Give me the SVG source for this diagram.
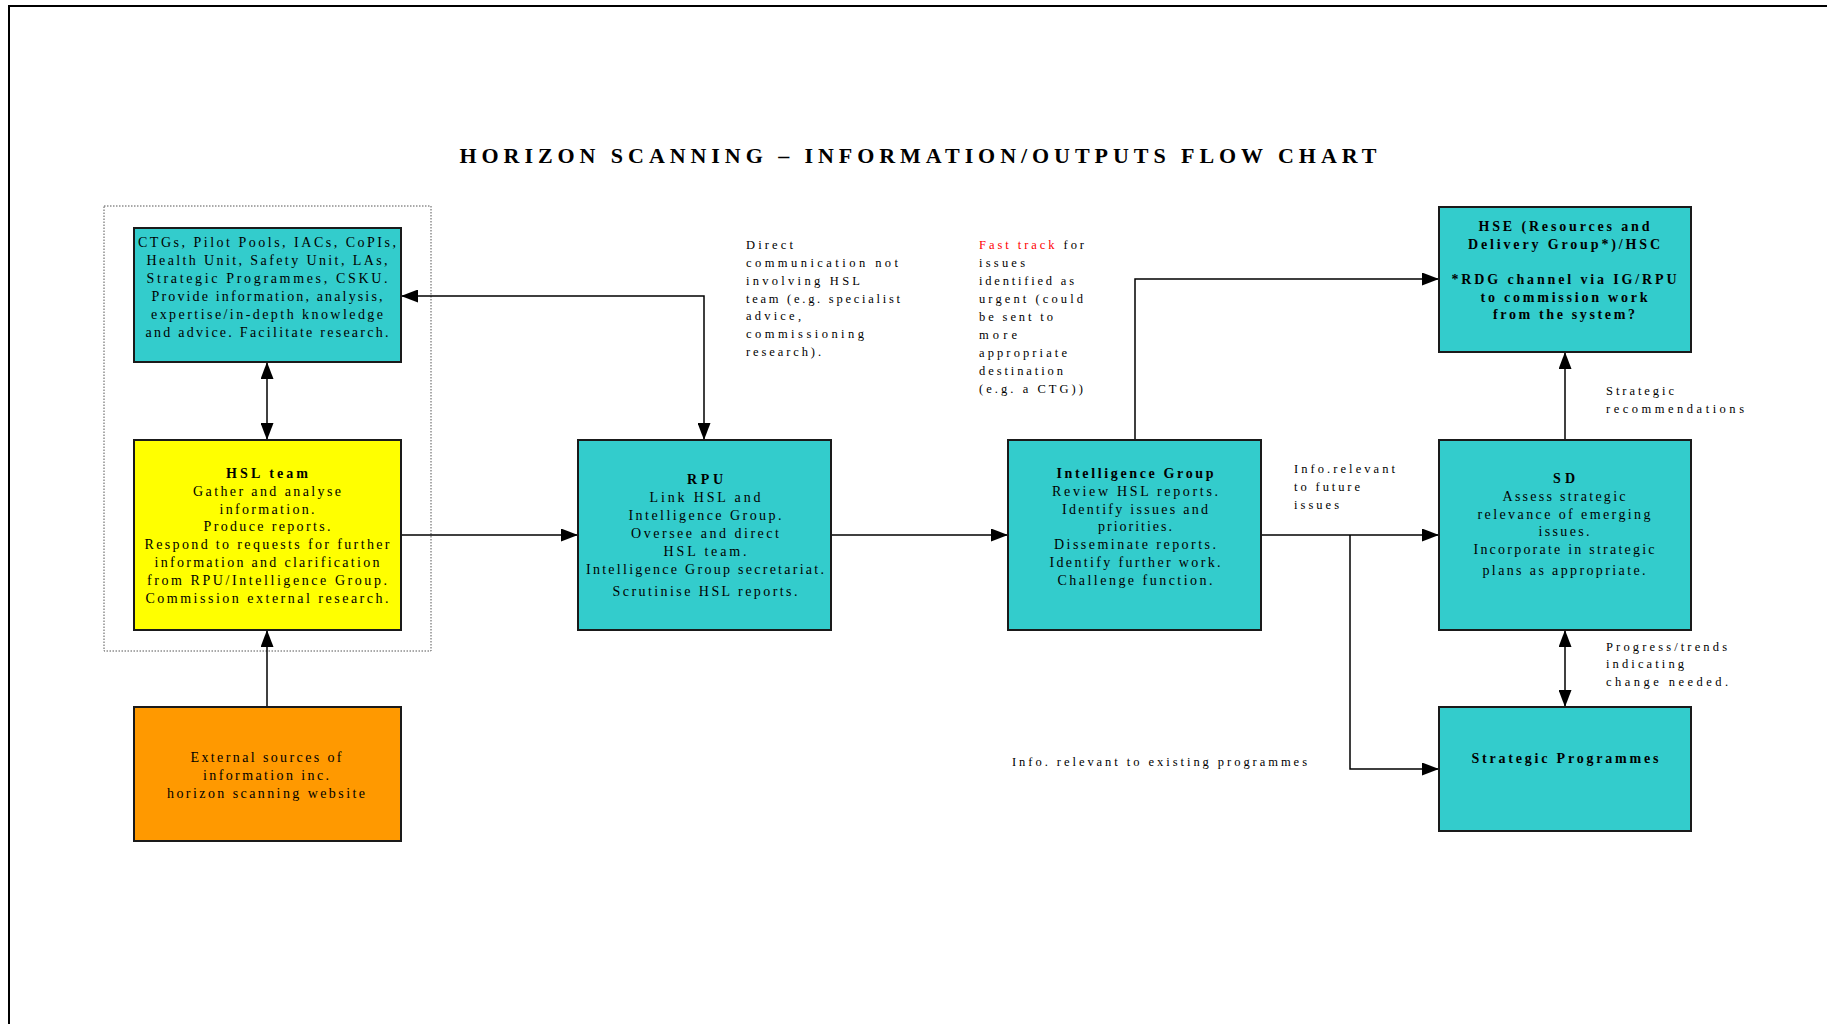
<svg xmlns="http://www.w3.org/2000/svg" width="1827" height="1024" viewBox="0 0 1827 1024">
<style>
.bg{fill:#fff}
.frame{fill:none;stroke:#000;stroke-width:2}
.box{stroke:#1a1a1a;stroke-width:2}
.cyan{fill:#33CCCC}
.yellow{fill:#FFFF00}
.orange{fill:#FF9900}
.group{fill:none;stroke:#555;stroke-width:1;stroke-dasharray:1.5,1.5}
.t{font-family:"Liberation Serif","Times New Roman",serif;font-size:14px;fill:#000}
.lbl{font-size:12.5px}
.b{font-weight:bold}
.m{text-anchor:middle}
.red{fill:#FF0000}
.title{font-family:"Liberation Serif","Times New Roman",serif;font-size:22px;font-weight:bold;fill:#000;text-anchor:middle}
.c{fill:none;stroke:#000;stroke-width:1.5}
</style>
<defs>
<marker id="ah" viewBox="0 0 17 13" refX="17" refY="6.5" markerWidth="17" markerHeight="13" markerUnits="userSpaceOnUse" orient="auto-start-reverse">
<path d="M0,0 L17,6.5 L0,13 z" fill="#000"/>
</marker>
</defs>
<rect class="bg" x="0" y="0" width="1827" height="1024"/>
<path class="frame" d="M9,1024 V6 H1827"/>
<text class="title" x="918" y="163" textLength="917" lengthAdjust="spacing">HORIZON SCANNING – INFORMATION/OUTPUTS FLOW CHART</text>

<rect id="hsl-group" class="group" x="104" y="206" width="327" height="445"/>

<g id="connectors">
<path class="c" d="M267,362 V440" marker-start="url(#ah)" marker-end="url(#ah)"/>
<path class="c" d="M267,707 V630" marker-end="url(#ah)"/>
<path class="c" d="M401,535 H578" marker-end="url(#ah)"/>
<path class="c" d="M704,440 V296 H401" marker-start="url(#ah)" marker-end="url(#ah)"/>
<path class="c" d="M831,535 H1008" marker-end="url(#ah)"/>
<path class="c" d="M1135,440 V279 H1439" marker-end="url(#ah)"/>
<path class="c" d="M1261,535 H1439" marker-end="url(#ah)"/>
<path class="c" d="M1350,535 V769 H1439" marker-end="url(#ah)"/>
<path class="c" d="M1565,440 V352" marker-end="url(#ah)"/>
<path class="c" d="M1565,630 V707" marker-start="url(#ah)" marker-end="url(#ah)"/>
</g>

<g id="ctgs">
<rect class="box cyan" x="134" y="228" width="267" height="134"/>
<text class="t m" x="267" y="247" textLength="258" lengthAdjust="spacing">CTGs, Pilot Pools, IACs, CoPIs,</text>
<text class="t m" x="267" y="265" textLength="241" lengthAdjust="spacing">Health Unit, Safety Unit, LAs,</text>
<text class="t m" x="267" y="283" textLength="241" lengthAdjust="spacing">Strategic Programmes, CSKU.</text>
<text class="t m" x="267" y="301" textLength="231" lengthAdjust="spacing">Provide information, analysis,</text>
<text class="t m" x="267" y="319" textLength="232" lengthAdjust="spacing">expertise/in-depth knowledge</text>
<text class="t m" x="267" y="337" textLength="243" lengthAdjust="spacing">and advice.  Facilitate research.</text>
</g>

<g id="hsl-team">
<rect class="box yellow" x="134" y="440" width="267" height="190"/>
<text class="t m b" x="267" y="478" textLength="82" lengthAdjust="spacing">HSL team</text>
<text class="t m" x="267" y="495.8" textLength="148" lengthAdjust="spacing">Gather and analyse</text>
<text class="t m" x="267" y="513.6" textLength="95" lengthAdjust="spacing">information.</text>
<text class="t m" x="267" y="531.4" textLength="127" lengthAdjust="spacing">Produce reports.</text>
<text class="t m" x="267" y="549.2" textLength="245" lengthAdjust="spacing">Respond to requests for further</text>
<text class="t m" x="267" y="567" textLength="225" lengthAdjust="spacing">information and clarification</text>
<text class="t m" x="267" y="584.8" textLength="240" lengthAdjust="spacing">from RPU/Intelligence Group.</text>
<text class="t m" x="267" y="602.6" textLength="243" lengthAdjust="spacing">Commission external research.</text>
</g>

<g id="external">
<rect class="box orange" x="134" y="707" width="267" height="134"/>
<text class="t m" x="266" y="762" textLength="151" lengthAdjust="spacing">External sources of</text>
<text class="t m" x="266" y="780" textLength="126" lengthAdjust="spacing">information inc.</text>
<text class="t m" x="266" y="798" textLength="198" lengthAdjust="spacing">horizon scanning website</text>
</g>

<g id="rpu">
<rect class="box cyan" x="578" y="440" width="253" height="190"/>
<text class="t m b" x="705" y="484" textLength="36" lengthAdjust="spacing">RPU</text>
<text class="t m" x="705" y="502" textLength="111" lengthAdjust="spacing">Link HSL and</text>
<text class="t m" x="705" y="520" textLength="153" lengthAdjust="spacing">Intelligence Group.</text>
<text class="t m" x="705" y="538" textLength="148" lengthAdjust="spacing">Oversee and direct</text>
<text class="t m" x="705" y="556" textLength="83" lengthAdjust="spacing">HSL team.</text>
<text class="t m" x="705" y="574" textLength="238" lengthAdjust="spacing">Intelligence Group secretariat.</text>
<text class="t m" x="705" y="596" textLength="185" lengthAdjust="spacing">Scrutinise HSL reports.</text>
</g>

<g id="intelligence-group">
<rect class="box cyan" x="1008" y="440" width="253" height="190"/>
<text class="t m b" x="1135" y="478" textLength="157" lengthAdjust="spacing">Intelligence Group</text>
<text class="t m" x="1135" y="496" textLength="166" lengthAdjust="spacing">Review HSL reports.</text>
<text class="t m" x="1135" y="514" textLength="146" lengthAdjust="spacing">Identify issues and</text>
<text class="t m" x="1135" y="531" textLength="74" lengthAdjust="spacing">priorities.</text>
<text class="t m" x="1135" y="549" textLength="162" lengthAdjust="spacing">Disseminate reports.</text>
<text class="t m" x="1135" y="567" textLength="171" lengthAdjust="spacing">Identify further work.</text>
<text class="t m" x="1135" y="585" textLength="155" lengthAdjust="spacing">Challenge function.</text>
</g>

<g id="hse">
<rect class="box cyan" x="1439" y="207" width="252" height="145"/>
<text class="t m b" x="1564" y="231" textLength="171" lengthAdjust="spacing">HSE (Resources and</text>
<text class="t m b" x="1564" y="249" textLength="192" lengthAdjust="spacing">Delivery Group*)/HSC</text>
<text class="t m b" x="1564" y="284" textLength="225" lengthAdjust="spacing">*RDG channel via IG/RPU</text>
<text class="t m b" x="1564" y="302" textLength="167" lengthAdjust="spacing">to commission work</text>
<text class="t m b" x="1564" y="319" textLength="142" lengthAdjust="spacing">from the system?</text>
</g>

<g id="sd">
<rect class="box cyan" x="1439" y="440" width="252" height="190"/>
<text class="t m b" x="1564" y="483" textLength="22" lengthAdjust="spacing">SD</text>
<text class="t m" x="1564" y="501" textLength="123" lengthAdjust="spacing">Assess strategic</text>
<text class="t m" x="1564" y="519" textLength="173" lengthAdjust="spacing">relevance of emerging</text>
<text class="t m" x="1564" y="536" textLength="51" lengthAdjust="spacing">issues.</text>
<text class="t m" x="1564" y="554" textLength="181" lengthAdjust="spacing">Incorporate in strategic</text>
<text class="t m" x="1564" y="575" textLength="163" lengthAdjust="spacing">plans as appropriate.</text>
</g>

<g id="strategic-programmes">
<rect class="box cyan" x="1439" y="707" width="252" height="124"/>
<text class="t m b" x="1565" y="763" textLength="187" lengthAdjust="spacing">Strategic Programmes</text>
</g>

<g id="labels">
<g id="label-direct">
<text class="t lbl" x="746" y="249" textLength="47" lengthAdjust="spacing">Direct</text>
<text class="t lbl" x="746" y="267" textLength="152" lengthAdjust="spacing">communication not</text>
<text class="t lbl" x="746" y="285" textLength="114" lengthAdjust="spacing">involving HSL</text>
<text class="t lbl" x="746" y="303" textLength="154" lengthAdjust="spacing">team (e.g. specialist</text>
<text class="t lbl" x="746" y="320" textLength="55" lengthAdjust="spacing">advice,</text>
<text class="t lbl" x="746" y="338" textLength="118" lengthAdjust="spacing">commissioning</text>
<text class="t lbl" x="746" y="356" textLength="75" lengthAdjust="spacing">research).</text>
</g>
<g id="label-fasttrack">
<text class="t lbl" x="979" y="249" textLength="105" lengthAdjust="spacing"><tspan class="red">Fast track</tspan> for</text>
<text class="t lbl" x="979" y="267" textLength="46" lengthAdjust="spacing">issues</text>
<text class="t lbl" x="979" y="285" textLength="95" lengthAdjust="spacing">identified as</text>
<text class="t lbl" x="979" y="303" textLength="104" lengthAdjust="spacing">urgent (could</text>
<text class="t lbl" x="979" y="321" textLength="74" lengthAdjust="spacing">be sent to</text>
<text class="t lbl" x="979" y="339" textLength="38" lengthAdjust="spacing">more</text>
<text class="t lbl" x="979" y="357" textLength="88" lengthAdjust="spacing">appropriate</text>
<text class="t lbl" x="979" y="375" textLength="84" lengthAdjust="spacing">destination</text>
<text class="t lbl" x="979" y="393" textLength="104" lengthAdjust="spacing">(e.g. a CTG))</text>
</g>
<g id="label-future">
<text class="t lbl" x="1294" y="473" textLength="101" lengthAdjust="spacing">Info.relevant</text>
<text class="t lbl" x="1294" y="491" textLength="66" lengthAdjust="spacing">to future</text>
<text class="t lbl" x="1294" y="509" textLength="45" lengthAdjust="spacing">issues</text>
</g>
<g id="label-existing">
<text class="t lbl" x="1012" y="766" textLength="295" lengthAdjust="spacing">Info. relevant to existing programmes</text>
</g>
<g id="label-strategic">
<text class="t lbl" x="1606" y="395" textLength="68" lengthAdjust="spacing">Strategic</text>
<text class="t lbl" x="1606" y="413" textLength="138" lengthAdjust="spacing">recommendations</text>
</g>
<g id="label-progress">
<text class="t lbl" x="1606" y="651" textLength="121" lengthAdjust="spacing">Progress/trends</text>
<text class="t lbl" x="1606" y="668" textLength="78" lengthAdjust="spacing">indicating</text>
<text class="t lbl" x="1606" y="686" textLength="122" lengthAdjust="spacing">change needed.</text>
</g>
</g>
</svg>
